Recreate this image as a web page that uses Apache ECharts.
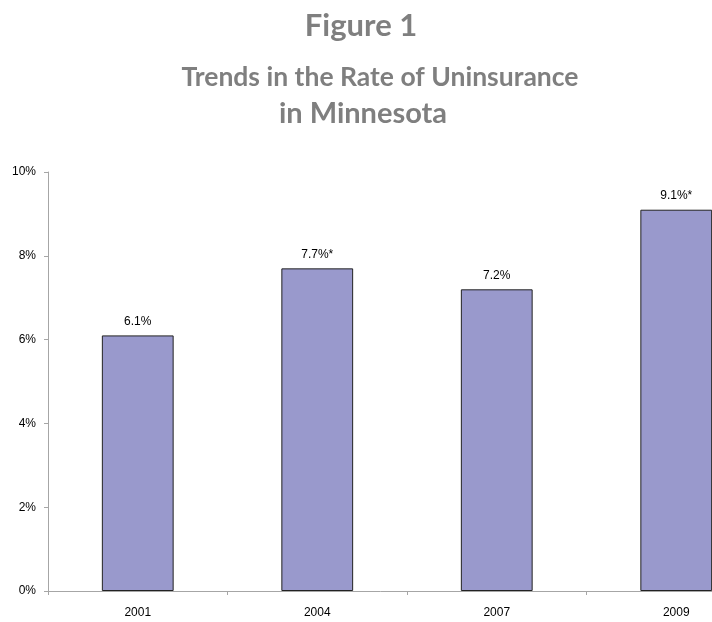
<!DOCTYPE html>
<html>
<head>
<meta charset="utf-8">
<script src="https://cdn.jsdelivr.net/npm/echarts@6/dist/echarts.min.js"></script>
<style>
  html, body { margin: 0; padding: 0; background: #fff; }
  #chart { width: 712px; height: 622px; }
</style>
</head>
<body>
<div id="chart"></div>
<script>
// data
const years = ['2001', '2004', '2007', '2009']
const rates = [6.1, 7.7, 7.2, 9.1]
const rateLabels = ['6.1%', '7.7%*', '7.2%', '9.1%*']
const yTicks = [0, 2, 4, 6, 8, 10]

const chart = echarts.init(document.getElementById('chart'))

const titleFont = 'Lato, "Open Sans", sans-serif'
const headStyle = { fontFamily: titleFont, fontSize: 31, fontWeight: 'bold', color: '#7f7f7f' }
const subStyle = { fontFamily: titleFont, fontSize: 26.5, fontWeight: 'bold', color: '#7f7f7f' }

chart.setOption({
  animation: false,
  title: [
    { text: 'Figure 1', left: 356, top: 5, textAlign: 'center', textStyle: headStyle },
    { text: 'Trends in the Rate of Uninsurance', left: 375, top: 59, textAlign: 'center', textStyle: subStyle },
    { text: 'in Minnesota', left: 358, top: 94, textAlign: 'center', textStyle: Object.assign({}, subStyle, { fontSize: 29 }) }
  ],
  // the plot runs a little past the right edge of the picture
  grid: { left: 48, top: 172, bottom: 31, width: 718, outerBoundsMode: 'none' },
  xAxis: {
    type: 'category',
    data: years,
    axisLine: { lineStyle: { color: '#a6a6a6', width: 1 } },
    axisTick: { show: true, length: 4, lineStyle: { color: '#a6a6a6' } },
    axisLabel: { color: '#000', fontFamily: 'Liberation Sans, Arial, sans-serif', fontSize: 12, margin: 16 }
  },
  yAxis: {
    type: 'value',
    min: 0,
    max: 10,
    interval: 2,
    axisLine: { show: true, lineStyle: { color: '#a6a6a6', width: 1 } },
    axisTick: { show: true, length: 4, lineStyle: { color: '#a6a6a6' } },
    splitLine: { show: false },
    axisLabel: {
      color: '#000',
      fontFamily: 'Liberation Sans, Arial, sans-serif',
      fontSize: 12,
      margin: 12,
      formatter: v => yTicks.includes(v) ? v + '%' : ''
    }
  },
  series: [{
    type: 'bar',
    data: rates,
    barWidth: '40%',
    itemStyle: { color: '#9999cc', borderColor: '#222', borderWidth: 1 },
    label: {
      show: true,
      position: 'top',
      distance: 8,
      color: '#000',
      fontFamily: 'Liberation Sans, Arial, sans-serif',
      fontSize: 12,
      formatter: p => rateLabels[p.dataIndex]
    }
  }]
})
</script>
</body>
</html>
